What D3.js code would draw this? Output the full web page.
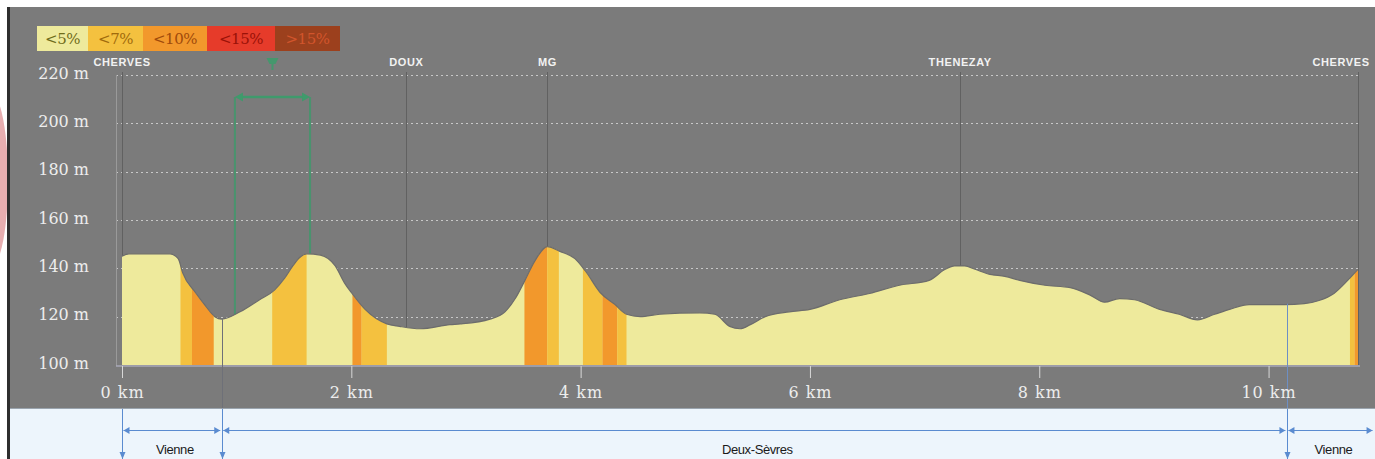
<!doctype html>
<html lang="fr">
<head>
<meta charset="utf-8">
<script src="https://cdn.jsdelivr.net/npm/d3@7"></script>
<style>
  html, body { margin: 0; padding: 0; background: #fff; }
  svg { display: block; }
</style>
</head>
<body>
<script>
  var W = 1375, H = 459;

  // profil : distance (km) / altitude (m)
  var profKm  = [0, 0.06, 0.42, 0.49, 0.53, 0.64, 0.72, 0.81, 0.87, 1.03, 1.20, 1.33, 1.42, 1.49, 1.55, 1.61,
                 1.73, 1.86, 1.94, 2.00, 2.12, 2.31, 2.42, 2.60, 2.86, 2.95, 3.21, 3.34, 3.43, 3.51, 3.60, 3.71,
                 3.82, 3.95, 4.04, 4.17, 4.30, 4.40, 4.52, 4.69, 5.04, 5.17, 5.30, 5.39, 5.48, 5.61, 5.82, 6.00,
                 6.26, 6.52, 6.78, 7.04, 7.18, 7.26, 7.35, 7.44, 7.57, 7.70, 7.83, 8.05, 8.27, 8.44, 8.57, 8.70,
                 8.83, 9.05, 9.22, 9.38, 9.53, 9.66, 9.83, 10.14, 10.31, 10.44, 10.57, 10.69, 10.78];
  var profAlt = [145, 146, 146, 144, 138, 130, 125, 120, 119, 122, 127, 131, 136, 141, 144.5, 146,
                 145.5, 141, 134, 130, 123, 117, 116, 115, 116.7, 117, 119, 122, 127.5, 134.6, 143, 149,
                 147, 144, 139, 130, 125, 121, 120, 121, 121.6, 121, 116, 115, 116.7, 120, 122, 123,
                 127, 129.6, 133, 135, 139.6, 141, 141, 139.6, 137.5, 136.7, 135, 133, 132, 129, 126, 127.5,
                 127, 123, 121, 118.7, 121, 123, 125, 125, 125.4, 126.7, 129.6, 135, 139.6];

  // pentes
  var slopeLabels = ["<5%", "<7%", "<10%", "<15%", ">15%"];
  var slopeColors = ["#eeea9c", "#f4c13f", "#f2982c", "#e63b2a", "#9c401d"];
  var slopeText   = ["#6f6c1a", "#a06a0c", "#a04a0a", "#9a1208", "#d2552c"];
  var bandFrom = [0.51, 0.61, 1.31, 2.01, 2.09, 3.51, 3.71, 4.02, 4.19, 4.32, 10.71, 10.75];
  var bandTo   = [0.61, 0.80, 1.61, 2.09, 2.31, 3.71, 3.81, 4.19, 4.32, 4.40, 10.75, 10.78];
  var bandCls  = [1, 2, 1, 2, 1, 2, 1, 1, 2, 1, 1, 2];

  // points de passage
  var wpNames = ["CHERVES", "DOUX", "MG", "THENEZAY", "CHERVES"];
  var wpKm    = [0, 2.48, 3.71, 7.31, 10.78];

  // départements
  var regNames = ["Vienne", "Deux-Sèvres", "Vienne"];
  var regFrom  = [0, 0.87, 10.16];
  var regTo    = [0.87, 10.16, 10.92];

  // zone sélectionnée (vert)
  var selFrom = 0.985, selTo = 1.64;

  var altTicks = [100, 120, 140, 160, 180, 200, 220];
  var kmTicks  = [0, 2, 4, 6, 8, 10];

  var x = d3.scaleLinear().domain([0, 10.78]).range([122, 1358]);
  var y = d3.scaleLinear().domain([100, 220]).range([365, 75]);

  var svg = d3.select("body").append("svg").attr("width", W).attr("height", H);

  // cadre
  svg.append("rect").attr("x", 0).attr("y", 0).attr("width", W).attr("height", H).attr("fill", "#fff");
  svg.append("ellipse").attr("cx", -8).attr("cy", 180).attr("rx", 16).attr("ry", 85).attr("fill", "#e7aeb0");
  svg.append("rect").attr("x", 7).attr("y", 7).attr("width", 3).attr("height", H - 7).attr("fill", "#2e2e2e");
  svg.append("rect").attr("x", 10).attr("y", 7).attr("width", W - 10).attr("height", 401).attr("fill", "#7b7b7b");
  svg.append("rect").attr("x", 10).attr("y", 408).attr("width", W - 10).attr("height", H - 408).attr("fill", "#edf5fc");
  svg.append("line").attr("x1", 10).attr("x2", W).attr("y1", 408.5).attr("y2", 408.5).attr("stroke", "#9aa4ae");

  // grille
  svg.append("g").selectAll("line").data(altTicks.slice(1)).enter().append("line")
    .attr("x1", 116).attr("x2", 1360)
    .attr("y1", function(d){ return Math.round(y(d)) + 0.5; })
    .attr("y2", function(d){ return Math.round(y(d)) + 0.5; })
    .attr("stroke", "#c8c8c8").attr("stroke-width", 1).attr("stroke-dasharray", "2,3");

  // axe vertical
  svg.append("line").attr("x1", 116.5).attr("x2", 116.5).attr("y1", 75).attr("y2", 366)
    .attr("stroke", "#9a9a9a");

  // lignes des points de passage
  svg.append("g").selectAll("line").data(wpKm).enter().append("line")
    .attr("x1", function(d){ return Math.round(x(d)) + 0.5; })
    .attr("x2", function(d){ return Math.round(x(d)) + 0.5; })
    .attr("y1", 72).attr("y2", 365)
    .attr("stroke", "#616161").attr("stroke-width", 1);

  // zone verte
  var green = "#3f9a6c";
  [selFrom, selTo].forEach(function(k){
    svg.append("line").attr("x1", x(k)).attr("x2", x(k)).attr("y1", 97).attr("y2", 365)
      .attr("stroke", green).attr("stroke-width", 2).attr("opacity", 0.8);
  });

  // profil
  var pts = profKm.map(function(k, i){ return [k, profAlt[i]]; });
  var area = d3.area()
    .x(function(d){ return x(d[0]); })
    .y0(y(100))
    .y1(function(d){ return y(d[1]); })
    .curve(d3.curveMonotoneX);

  svg.append("clipPath").attr("id", "profClip").append("path").datum(pts).attr("d", area);

  svg.append("path").datum(pts).attr("d", area).attr("fill", slopeColors[0]);

  svg.append("g").attr("clip-path", "url(#profClip)")
    .selectAll("rect").data(bandFrom).enter().append("rect")
    .attr("x", function(d){ return x(d); })
    .attr("width", function(d, i){ return x(bandTo[i]) - x(d); })
    .attr("y", 70).attr("height", 300)
    .attr("fill", function(d, i){ return slopeColors[bandCls[i]]; });

  svg.append("path").datum(pts)
    .attr("d", d3.line().x(function(d){ return x(d[0]); }).y(function(d){ return y(d[1]); }).curve(d3.curveMonotoneX))
    .attr("fill", "none").attr("stroke", "#6c6c6c").attr("stroke-width", 1.2);

  // ligne de base
  svg.append("line").attr("x1", 116).attr("x2", 1360).attr("y1", 366).attr("y2", 366)
    .attr("stroke", "#a9a9b9").attr("stroke-width", 1.5);

  // limites départementales dans le profil
  var bColors = ["#6e7078", "#6d8fc4"];
  svg.append("g").selectAll("line").data(regFrom.slice(1)).enter().append("line")
    .attr("x1", function(d){ return Math.round(x(d)) + 0.5; })
    .attr("x2", function(d){ return Math.round(x(d)) + 0.5; })
    .attr("y1", function(d){ return y(profAlt[d3.bisectLeft(profKm, d)]); })
    .attr("y2", 408)
    .attr("stroke", function(d, i){ return bColors[i]; }).attr("stroke-width", 1);

  // marqueur vert
  var by = 97;
  svg.append("line").attr("x1", x(selFrom) + 6).attr("x2", x(selTo) - 6).attr("y1", by).attr("y2", by)
    .attr("stroke", green).attr("stroke-width", 2.5);
  svg.append("path").attr("fill", green)
    .attr("d", "M" + x(selFrom) + "," + by + "l8,-4.5v9z");
  svg.append("path").attr("fill", green)
    .attr("d", "M" + x(selTo) + "," + by + "l-8,-4.5v9z");
  var mx = (x(selFrom) + x(selTo)) / 2;
  svg.append("path").attr("fill", green).attr("opacity", 0.9)
    .attr("d", "M" + (mx - 6) + ",58h12l-3,6h-2v6h-2v-6h-2z");

  // axe Y
  var yAxis = svg.append("g").attr("transform", "translate(116,0)")
    .call(d3.axisLeft(y).tickValues(altTicks).tickSize(0).tickPadding(27)
      .tickFormat(function(d){ return d + " m"; }));
  yAxis.select(".domain").remove();
  yAxis.selectAll("text")
    .attr("fill", "#ededed").attr("dy", "0.2em")
    .style("font-family", "DejaVu Serif, serif").style("font-size", "16px");

  // axe X
  var xAxis = svg.append("g").attr("transform", "translate(0,366)")
    .call(d3.axisBottom(x).tickValues(kmTicks).tickSize(12).tickPadding(9)
      .tickFormat(function(d){ return d + " km"; }));
  xAxis.select(".domain").remove();
  xAxis.selectAll("line").attr("stroke", "#d8d8d8");
  xAxis.selectAll("text")
    .attr("fill", "#ededed")
    .style("font-family", "DejaVu Serif, serif").style("font-size", "16px")
    .style("letter-spacing", "1px");

  // étiquettes des points de passage
  svg.append("g").selectAll("text").data(wpNames).enter().append("text")
    .attr("x", function(d, i){ return Math.min(x(wpKm[i]), W - 34); })
    .attr("y", 66)
    .attr("text-anchor", "middle")
    .attr("fill", "#f2f2f2")
    .style("font-family", "Liberation Sans, Arial, sans-serif")
    .style("font-size", "11px").style("font-weight", "bold").style("letter-spacing", "0.6px")
    .text(function(d){ return d; });

  // légende des pentes
  var legX = [37, 88, 143, 207, 275, 340];
  var leg = svg.append("g");
  leg.selectAll("rect").data(slopeLabels).enter().append("rect")
    .attr("x", function(d, i){ return legX[i]; })
    .attr("width", function(d, i){ return legX[i + 1] - legX[i]; })
    .attr("y", 26).attr("height", 25)
    .attr("fill", function(d, i){ return slopeColors[i]; });
  leg.selectAll("text").data(slopeLabels).enter().append("text")
    .attr("x", function(d, i){ return (legX[i] + legX[i + 1]) / 2; })
    .attr("y", 44)
    .attr("text-anchor", "middle")
    .attr("fill", function(d, i){ return slopeText[i]; })
    .style("font-family", "DejaVu Serif, serif").style("font-size", "15px")
    .style("letter-spacing", "-0.5px")
    .text(function(d){ return d; });

  // bandeau des départements
  var blue = "#5a8bd0";
  var ay = 430;
  var bnd = [regFrom[0]].concat(regTo.slice(0, 2));
  svg.append("g").selectAll("line").data(bnd).enter().append("line")
    .attr("x1", function(d){ return Math.round(x(d)) + 0.5; })
    .attr("x2", function(d){ return Math.round(x(d)) + 0.5; })
    .attr("y1", 409).attr("y2", H)
    .attr("stroke", blue).attr("stroke-width", 1);
  bnd.forEach(function(d){
    var px = Math.round(x(d)) + 0.5;
    svg.append("path").attr("fill", blue).attr("d", "M" + (px - 3) + ",452l3,7l3,-7z");
  });

  var regs = svg.append("g");
  regNames.forEach(function(n, i){
    var a = x(regFrom[i]) + 1.5, b = x(regTo[i]) - 1.5;
    regs.append("line").attr("x1", a).attr("x2", b).attr("y1", ay + 0.5).attr("y2", ay + 0.5)
      .attr("stroke", blue).attr("stroke-width", 1);
    regs.append("path").attr("fill", blue).attr("d", "M" + a + "," + (ay + 0.5) + "l6,-3.5v7z");
    regs.append("path").attr("fill", blue).attr("d", "M" + b + "," + (ay + 0.5) + "l-6,-3.5v7z");
    regs.append("text")
      .attr("x", (x(regFrom[i]) + x(regTo[i])) / 2 + 3)
      .attr("y", 454)
      .attr("text-anchor", "middle")
      .attr("fill", "#1a1a1a")
      .style("font-family", "Liberation Sans, Arial, sans-serif").style("font-size", "13px")
      .style("letter-spacing", "-0.4px")
      .text(n);
  });
</script>
</body>
</html>
